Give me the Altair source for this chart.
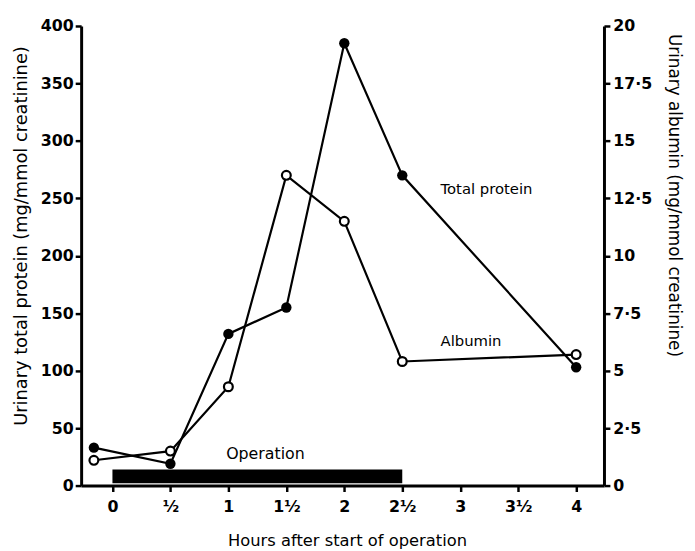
import altair as alt
import pandas as pd

# ---- data ----
hours = [-0.16, 0.5, 1.0, 1.5, 2.0, 2.5, 4.0]
total_protein = [33, 19, 132, 155, 385, 270, 103]      # mg/mmol creatinine (left axis)
albumin = [1.1, 1.5, 4.3, 13.5, 11.5, 5.4, 5.7]        # mg/mmol creatinine (right axis)

x_ticks = [0, 0.5, 1, 1.5, 2, 2.5, 3, 3.5, 4]
left_ticks = [0, 50, 100, 150, 200, 250, 300, 350, 400]
right_ticks = [0, 2.5, 5, 7.5, 10, 12.5, 15, 17.5, 20]

op_start, op_end = [0.0], [2.5]
op_low, op_high = [2], [14]

label_text = ["Total protein", "Albumin", "Operation"]
label_x = [2.83, 2.83, 1.32]
label_y = [258, 126, 27]
label_align = ["left", "left", "center"]

FONT = "DejaVu Sans"
XDOM = [-0.27, 4.24]

df = pd.DataFrame({"h": hours, "tp": total_protein, "alb": albumin})
op = pd.DataFrame({"s": op_start, "e": op_end, "lo": op_low, "hi": op_high})
lab = pd.DataFrame({"t": label_text, "x": label_x, "y": label_y, "a": label_align})

xscale = alt.Scale(domain=XDOM, nice=False, zero=False)
lscale = alt.Scale(domain=[0, 400], nice=False)
rscale = alt.Scale(domain=[0, 20], nice=False)

x_axis = alt.Axis(
    values=x_ticks,
    labelExpr="datum.value == floor(datum.value) ? format(datum.value, 'd') : (floor(datum.value) == 0 ? '½' : format(floor(datum.value), 'd') + '½')",
    title="Hours after start of operation",
    tickSize=6, labelPadding=7, titlePadding=19, titleX=269,
    labelFontSize=16, titleFontSize=16.5,
)
left_axis = alt.Axis(
    values=left_ticks, title="Urinary total protein (mg/mmol creatinine)",
    tickSize=6, labelPadding=2, titlePadding=10,
    labelFontSize=16, titleFontSize=18, titleY=212, titleAlign="center",
)
right_axis = alt.Axis(
    orient="right", values=right_ticks,
    labelExpr="replace(format(datum.value, '~g'), '.', '·')",
    title="Urinary albumin (mg/mmol creatinine)",
    tickSize=6, labelPadding=3, titlePadding=13,
    labelFontSize=16, titleFontSize=17, titleY=171, titleAlign="center",
)

X = lambda f: alt.X(f, scale=xscale, axis=x_axis)
YL = lambda f: alt.Y(f, scale=lscale, axis=left_axis)
YR = lambda f: alt.Y(f, scale=rscale, axis=right_axis)

base = alt.Chart(df)

tp_line = base.mark_line(color="black", strokeWidth=2.2).encode(x=X("h:Q"), y=YL("tp:Q"))
tp_pts = base.mark_point(shape="circle", filled=True, color="black", size=110, opacity=1).encode(
    x=X("h:Q"), y=YL("tp:Q"))
bar = alt.Chart(op).mark_rect(color="black").encode(
    x=X("s:Q"), x2="e:Q", y=YL("lo:Q"), y2="hi:Q")
texts_left = alt.Chart(lab).transform_filter("datum.a == 'left'").mark_text(
    font=FONT, fontSize=15, baseline="middle", align="left", color="black").encode(
    x=X("x:Q"), y=YL("y:Q"), text="t:N")
texts_center = alt.Chart(lab).transform_filter("datum.a == 'center'").mark_text(
    font=FONT, fontSize=16, baseline="middle", align="center", color="black").encode(
    x=X("x:Q"), y=YL("y:Q"), text="t:N")

left = alt.layer(tp_line, tp_pts, bar, texts_left, texts_center)

alb_line = base.mark_line(color="black", strokeWidth=2.2).encode(x=X("h:Q"), y=YR("alb:Q"))
alb_pts = base.mark_point(shape="circle", filled=True, fill="white", stroke="black",
                          strokeWidth=2.2, size=80, opacity=1).encode(x=X("h:Q"), y=YR("alb:Q"))
right = alt.layer(alb_line, alb_pts)

chart = alt.layer(left, right).resolve_scale(y="independent").properties(
    width=529, height=465,
    autosize=alt.AutoSizeParams(type="none"),
    padding={"left": 74, "top": 15, "right": 84, "bottom": 63},
).configure_view(stroke=None).configure_axis(
    grid=False, domainColor="black", domainWidth=3, tickColor="black", tickWidth=2.5,
    labelFont=FONT, labelFontWeight="bold", labelColor="black",
    titleFont=FONT, titleFontWeight="normal", titleColor="black",
)

chart.save("out.html", embed_options={"renderer": "svg", "actions": False})
